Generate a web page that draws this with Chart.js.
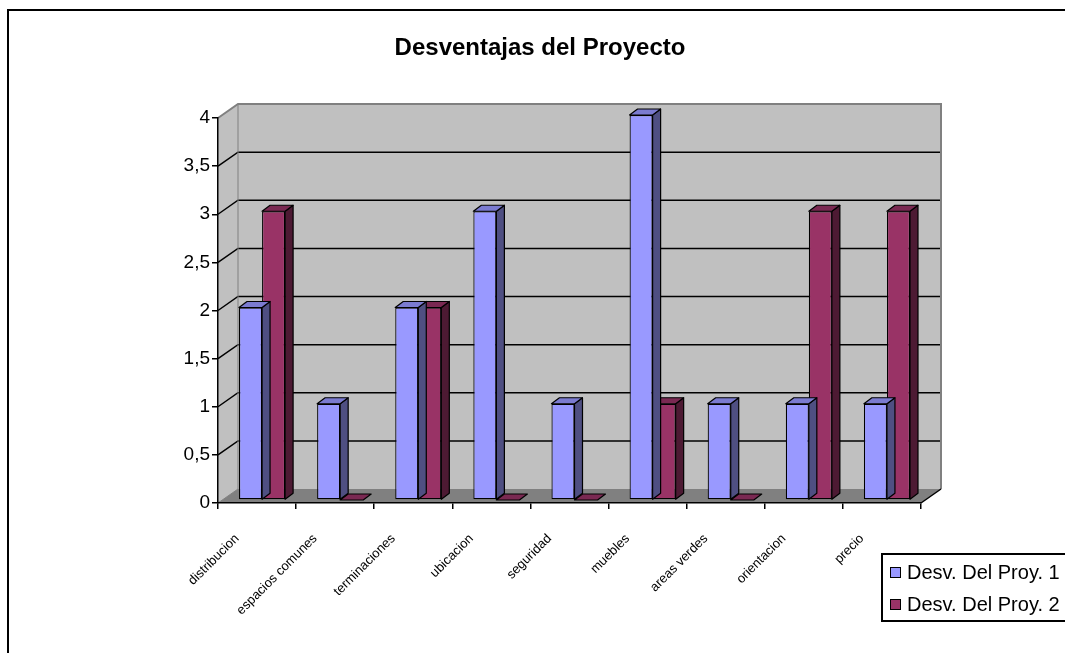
<!DOCTYPE html>
<html>
<head>
<meta charset="utf-8">
<script src="https://cdn.jsdelivr.net/npm/chart.js@4/dist/chart.umd.min.js"></script>
<style>
  body { margin: 0; background: #fff; overflow: hidden; }
</style>
</head>
<body>
<canvas id="chart" width="1065" height="653"></canvas>
<script>
const categories = ['distribucion', 'espacios comunes', 'terminaciones', 'ubicacion', 'seguridad',
                    'muebles', 'areas verdes', 'orientacion', 'precio'];
const proy1 = [2, 1, 2, 3, 1, 4, 1, 1, 1];
const proy2 = [3, 0, 2, 0, 0, 1, 0, 3, 3];
const seriesNames = ['Desv. Del Proy. 1', 'Desv. Del Proy. 2'];
const yMax = 4;
const yStep = 0.5;

// fake 3D: wall depth, where the bars sit inside it, and bar thickness
const WALL = {dx: 20, dy: -14};
const BAR_SHIFT = {dx: 5, dy: -3};
const BAR_DEPTH = {dx: 8, dy: -6};

const colors = [
  {front: '#9999ff', side: '#4f4f82', top: '#7b7bd0'},
  {front: '#993366', side: '#4d1a33', top: '#7a2952'}
];

Chart.defaults.font.family = '"Liberation Sans", Arial, sans-serif';
Chart.defaults.color = '#000';

function poly(ctx, pts) {
  ctx.beginPath();
  ctx.moveTo(pts[0][0], pts[0][1]);
  for (let i = 1; i < pts.length; i++) ctx.lineTo(pts[i][0], pts[i][1]);
  ctx.closePath();
}

const excel3d = {
  id: 'excel3d',
  beforeDraw(chart) {
    const ctx = chart.ctx, xs = chart.scales.x, ys = chart.scales.y;
    const L = xs.left, R = xs.right;
    const y0 = ys.getPixelForValue(0), yT = ys.getPixelForValue(yMax);
    const dx = WALL.dx, dy = WALL.dy;
    ctx.save();
    ctx.fillStyle = '#fff';
    ctx.fillRect(0, 0, chart.width, chart.height);
    // chart frame (runs off the right side like the original)
    ctx.strokeStyle = '#000';
    ctx.lineWidth = 2;
    ctx.strokeRect(8, 10, chart.width + 50, chart.height + 50);

    ctx.fillStyle = '#c0c0c0';
    ctx.fillRect(L + dx, yT + dy, R - L, y0 - yT);
    poly(ctx, [[L, yT], [L + dx, yT + dy], [L + dx, y0 + dy], [L, y0]]);
    ctx.fill();
    ctx.fillStyle = '#808080';
    poly(ctx, [[L, y0], [R, y0], [R + dx, y0 + dy], [L + dx, y0 + dy]]);
    ctx.fill();

    // grid on side + back wall
    ctx.strokeStyle = '#000';
    ctx.lineWidth = 1.5;
    ys.ticks.forEach(t => {
      if (t.value <= 0 || t.value >= yMax) return;
      const y = ys.getPixelForValue(t.value);
      ctx.beginPath();
      ctx.moveTo(L, y);
      ctx.lineTo(L + dx, y + dy);
      ctx.lineTo(R + dx, y + dy);
      ctx.stroke();
    });

    ctx.strokeStyle = '#808080';
    ctx.lineWidth = 2;
    ctx.beginPath();
    ctx.moveTo(L, yT);
    ctx.lineTo(L + dx, yT + dy);
    ctx.lineTo(R + dx, yT + dy);
    ctx.lineTo(R + dx, y0 + dy);
    ctx.stroke();
    ctx.lineWidth = 1;
    ctx.beginPath();
    ctx.moveTo(L + dx, yT + dy);
    ctx.lineTo(L + dx, y0 + dy);
    ctx.moveTo(L, y0);
    ctx.lineTo(L + dx, y0 + dy);
    ctx.stroke();
    ctx.strokeStyle = '#000';
    ctx.lineWidth = 1.5;
    ctx.beginPath();
    ctx.moveTo(R, y0);
    ctx.lineTo(R + dx, y0 + dy);
    ctx.stroke();
    ctx.restore();
  },
  beforeDatasetsDraw(chart) {
    chart.ctx.save();
    chart.ctx.translate(BAR_SHIFT.dx, BAR_SHIFT.dy);
  },
  afterDatasetDraw(chart, args) {
    const ctx = chart.ctx, c = colors[args.index];
    const dx = BAR_DEPTH.dx, dy = BAR_DEPTH.dy;
    ctx.save();
    ctx.strokeStyle = '#000';
    ctx.lineWidth = 1.2;
    ctx.lineJoin = 'round';
    args.meta.data.forEach(el => {
      const p = el.getProps(['x', 'y', 'base', 'width'], true);
      const l = p.x - p.width / 2, r = p.x + p.width / 2;
      const top = Math.min(p.y, p.base), bot = Math.max(p.y, p.base);
      if (bot > top) {
        ctx.fillStyle = c.side;
        poly(ctx, [[r, top], [r + dx, top + dy], [r + dx, bot + dy], [r, bot]]);
        ctx.fill();
        ctx.stroke();
      }
      ctx.fillStyle = c.top;
      poly(ctx, [[l, top], [l + dx, top + dy], [r + dx, top + dy], [r, top]]);
      ctx.fill();
      ctx.stroke();
    });
    ctx.restore();
  },
  afterDatasetsDraw(chart) {
    chart.ctx.restore();
  },
  afterDraw(chart) {
    // legend box, placed under the plot at the right like the original
    const ctx = chart.ctx;
    ctx.save();
    ctx.strokeStyle = '#000';
    ctx.lineWidth = 2;
    ctx.strokeRect(882, 554, 300, 67);
    ctx.font = '20px "Liberation Sans", Arial, sans-serif';
    ctx.textBaseline = 'middle';
    chart.data.datasets.forEach((ds, i) => {
      const y = 572 + i * 32;
      ctx.fillStyle = ds.backgroundColor;
      ctx.fillRect(890, y - 5, 10, 10);
      ctx.lineWidth = 1;
      ctx.strokeRect(890.5, y - 4.5, 10, 10);
      ctx.fillStyle = '#000';
      ctx.fillText(ds.label, 907, y + 1);
    });
    ctx.restore();
  }
};

new Chart(document.getElementById('chart'), {
  type: 'bar',
  data: {
    labels: categories,
    datasets: [
      {label: seriesNames[0], data: proy1, backgroundColor: colors[0].front},
      {label: seriesNames[1], data: proy2, backgroundColor: colors[1].front}
    ]
  },
  options: {
    responsive: false,
    animation: false,
    layout: {padding: {left: 15, top: 0, right: 0, bottom: 0}},
    datasets: {
      bar: {
        categoryPercentage: 0.59,
        barPercentage: 1,
        borderColor: '#000',
        borderWidth: 1.2,
        borderSkipped: false,
        clip: false
      }
    },
    plugins: {
      legend: {display: false},
      tooltip: {enabled: false},
      title: {
        display: true,
        text: 'Desventajas del Proyecto',
        color: '#000',
        font: {size: 24, weight: 'bold'},
        padding: {top: 34, bottom: 55.2}
      }
    },
    scales: {
      x: {
        grid: {drawOnChartArea: false, color: '#000', tickLength: 6, lineWidth: 1.5},
        border: {color: '#000', width: 1.5},
        ticks: {
          autoSkip: false, minRotation: 45, maxRotation: 45,
          font: {size: 13}, padding: 22, labelOffset: -20
        },
        afterFit: s => { s.height = 150; }
      },
      y: {
        min: 0, max: yMax,
        grid: {drawOnChartArea: false, color: '#000', tickLength: 6, lineWidth: 1.5},
        border: {color: '#000', width: 1.5},
        ticks: {
          stepSize: yStep, padding: 2, font: {size: 19},
          callback: v => String(v).replace('.', ',')
        },
        afterFit: s => { s.width = 203; }
      },
      // empty box on the right so the plot ends where the original does
      spacer: {
        type: 'linear', position: 'right',
        grid: {display: false}, border: {display: false}, ticks: {display: false},
        afterFit: s => { s.width = 144; }
      }
    }
  },
  plugins: [excel3d]
});
</script>
</body>
</html>
